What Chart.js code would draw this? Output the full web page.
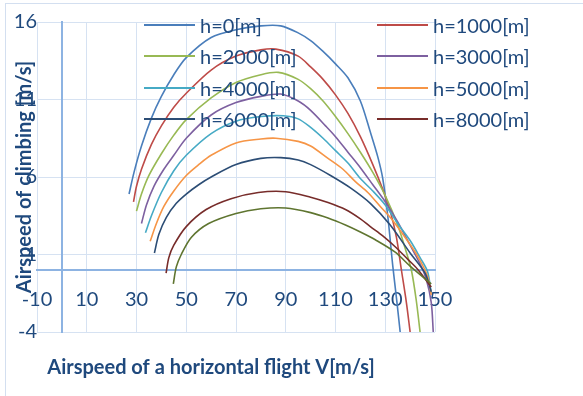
<!DOCTYPE html>
<html>
<head>
<meta charset="utf-8">
<script src="https://cdn.jsdelivr.net/npm/chart.js@4.4.0/dist/chart.umd.min.js"></script>
<style>
body { margin: 0; background: #fff; font-family: Lato, sans-serif; }
#contenitore { position: relative; width: 583px; height: 396px; overflow: hidden; }
#cornice { position: absolute; left: 5px; top: 3px; right: -2px; bottom: -2px; border-top: 1px solid #d3dff0; border-left: 1px solid #d3dff0; }
#grafico { position: absolute; left: 0; top: 0; }
#legenda { position: absolute; left: 0; top: 0; width: 583px; height: 396px; }
.voce { position: absolute; height: 22px; display: flex; align-items: center; font-size: 20px; color: #1F497D; white-space: nowrap; }
.voce .linea { width: 51px; height: 2px; margin-right: 5px; }
</style>
</head>
<body>
<div id="contenitore">
  <div id="cornice"></div>
  <canvas id="grafico" width="583" height="396"></canvas>
  <div id="legenda"></div>
</div>
<script>
// quote [m]
var etichette = ["h=0[m]", "h=1000[m]", "h=2000[m]", "h=3000[m]", "h=4000[m]", "h=5000[m]", "h=6000[m]", "h=8000[m]", "h=9000[m]"];
var vociLegenda = 8; // l'ultima serie non entra nella legenda

// velocita orizzontale V [m/s] e velocita di salita [m/s] per ogni quota
var speedH0 = [27, 29, 32, 36, 40, 45, 50, 60, 70, 80, 88, 95, 100, 105, 110, 115, 120, 124, 127, 129, 131, 133, 134.5, 136];
var climbH0 = [4.9, 6.3, 8.0, 9.8, 11.2, 12.6, 13.7, 15.0, 15.5, 15.75, 15.75, 15.3, 14.8, 14.1, 13.3, 12.4, 10.9, 8.9, 7.3, 5.9, 3.5, 0.3, -1.8, -4.0];

var speedH1 = [28.8, 30, 32, 36, 40, 45, 50, 60, 70, 80, 86, 95, 100, 105, 110, 115, 120, 125, 129, 132, 134.5, 136.5, 138.5, 140];
var climbH1 = [4.4, 5.4, 6.5, 8.1, 9.3, 10.5, 11.4, 12.9, 13.8, 14.2, 14.25, 13.8, 13.1, 12.3, 11.3, 10.1, 8.6, 6.8, 5.2, 3.8, 2.1, 0.0, -2.1, -4.0];

var speedH2 = [30, 32, 35, 40, 45, 50, 60, 70, 80, 87, 95, 100, 105, 110, 115, 120, 125, 130, 135, 138, 140.5, 142.5, 144];
var climbH2 = [3.8, 4.9, 6.1, 7.5, 8.7, 9.7, 11.1, 12.1, 12.6, 12.75, 12.3, 11.7, 10.9, 9.9, 8.8, 7.6, 6.3, 4.8, 2.9, 1.4, 0.0, -2.0, -4.0];

var speedH3 = [32, 34, 37, 41, 45, 50, 60, 70, 80, 88, 95, 100, 106, 110, 115, 120, 125, 130, 135, 140, 144, 146.5, 148.5, 149.3];
var climbH3 = [3.0, 4.2, 5.4, 6.5, 7.4, 8.5, 10.0, 10.8, 11.2, 11.35, 10.9, 10.3, 9.3, 8.6, 7.6, 6.6, 5.5, 4.4, 3.1, 1.6, 0.4, -0.6, -2.1, -4.0];

var speedH4 = [33.6, 36, 40, 45, 50, 60, 70, 80, 89, 95, 100, 105, 110, 115, 120, 125, 130, 135, 140, 144, 147, 148.5];
var climbH4 = [2.4, 3.5, 5.0, 6.4, 7.4, 8.8, 9.6, 9.9, 9.95, 9.75, 9.2, 8.5, 7.7, 6.9, 5.9, 5.1, 4.2, 3.0, 1.9, 0.8, -0.1, -1.5];

var speedH5 = [35.5, 38, 41, 45, 50, 55, 60, 70, 80, 86, 95, 100, 107, 113, 118, 123, 128, 133, 138, 143, 147, 148.5];
var climbH5 = [1.85, 3.0, 4.1, 5.1, 6.1, 6.8, 7.4, 8.2, 8.45, 8.5, 8.3, 8.0, 7.2, 6.5, 5.7, 5.0, 4.1, 3.2, 2.1, 0.9, -0.4, -1.6];

var speedH6 = [37.2, 39, 42, 46, 50, 55, 60, 70, 80, 88, 95, 100, 108, 116, 124, 132, 140, 146, 148.5];
var climbH6 = [1.1, 2.3, 3.4, 4.3, 4.9, 5.5, 6.0, 6.8, 7.2, 7.25, 7.1, 6.8, 6.1, 5.3, 4.3, 2.9, 1.1, -0.2, -1.4];

var speedH8 = [41.9, 43, 45, 50, 58, 68, 79, 90, 100, 107, 114, 120, 124, 129, 134, 139, 143, 148.5];
var climbH8 = [-0.2, 0.8, 1.6, 2.8, 3.9, 4.6, 5.0, 5.05, 4.7, 4.35, 3.9, 3.3, 2.8, 2.2, 1.5, 0.7, 0.05, -1.1];

var speedH9 = [44.8, 46, 48, 52, 59, 70, 80, 90, 100, 107, 114, 120, 126, 134, 140, 148.5];
var climbH9 = [-0.9, 0.2, 1.0, 2.1, 3.0, 3.65, 3.95, 4.0, 3.7, 3.35, 2.9, 2.45, 1.95, 1.15, 0.25, -0.9];

var titoloX = "Airspeed of a horizontal flight V[m/s]";
var titoloY = "Airspeed of climbing [m/s]";

var colori = ["#4A7EBB", "#BE4B48", "#98B954", "#7D60A0", "#46AAC5", "#F69546", "#2C4D75", "#772C2A", "#5F7530"];
var coloreTesto = "#1F497D";
var coloreGriglia = "#D6E2F2";
var coloreAssi = "#8DB3E2";

var serie = [
    [speedH0, climbH0], [speedH1, climbH1], [speedH2, climbH2],
    [speedH3, climbH3], [speedH4, climbH4], [speedH5, climbH5],
    [speedH6, climbH6], [speedH8, climbH8], [speedH9, climbH9]
];

var chart;

function creaDatasets(){
    var datasets = [];
    for (var i = 0; i < serie.length; i++){
        var punti = serie[i][0].map((v, k) => ({x: v, y: serie[i][1][k]}));
        datasets.push({
            label: etichette[i],
            data: punti,
            borderColor: colori[i],
            backgroundColor: colori[i],
            borderWidth: 1.6,
            pointRadius: 0,
            tension: 0.3,
            order: serie.length - i
        });
    }
    return datasets;
}

// titoli degli assi disegnati a mano come in Excel (il titolo Y copre le etichette)
var titoliAssi = {
    id: 'titoliAssi',
    afterDraw: function(c){
        var ctx = c.ctx;
        var area = c.chartArea;
        ctx.save();
        ctx.fillStyle = coloreTesto;
        ctx.font = "bold 20px Lato";
        ctx.textAlign = "center";
        ctx.textBaseline = "middle";
        ctx.fillText(titoloX, 211, 368);
        ctx.translate(25, (area.top + area.bottom) / 2);
        ctx.rotate(-Math.PI / 2);
        ctx.fillText(titoloY, 0, 0);
        ctx.restore();
    }
};

function creaGrafico(){
    var context = document.getElementById("grafico").getContext("2d");
    chart = new Chart(context, {
        type: 'line',
        data: { datasets: creaDatasets() },
        options: {
            responsive: false,
            animation: false,
            layout: { padding: { left: 5, right: 148, top: 22, bottom: 64 } },
            plugins: {
                legend: { display: false },
                tooltip: { enabled: false }
            },
            scales: {
                x: {
                    type: 'linear',
                    min: -10,
                    max: 150,
                    position: { y: 0 },
                    ticks: {
                        stepSize: 20,
                        color: coloreTesto,
                        font: { family: 'Lato', size: 20 },
                        padding: 18,
                        maxRotation: 0,
                        autoSkip: false
                    },
                    grid: { color: coloreGriglia, drawTicks: false },
                    border: { color: coloreAssi, width: 2 }
                },
                y: {
                    type: 'linear',
                    min: -4,
                    max: 16,
                    ticks: {
                        stepSize: 5,
                        color: coloreTesto,
                        font: { family: 'Lato', size: 20 },
                        padding: 0
                    },
                    grid: { color: coloreGriglia, drawTicks: false },
                    border: { display: false },
                    afterFit: function(s){ s.width = 32; }
                },
                y0: {
                    type: 'linear',
                    axis: 'y',
                    min: -4,
                    max: 16,
                    position: { x: 0 },
                    ticks: { display: false },
                    grid: { display: false },
                    border: { color: coloreAssi, width: 2 }
                }
            }
        },
        plugins: [titoliAssi]
    });
}

function popolaLegenda(){
    var legenda = document.getElementById("legenda");
    legenda.innerHTML = "";
    for (var i = 0; i < vociLegenda; i++){
        var colonna = i % 2;
        var riga = Math.floor(i / 2);
        var voce = document.createElement("div");
        voce.className = "voce";
        voce.style.left = (colonna == 0 ? 144 : 377) + "px";
        voce.style.top = (14 + riga * 31.3) + "px";
        var linea = document.createElement("span");
        linea.className = "linea";
        linea.style.background = colori[i];
        var testo = document.createElement("span");
        testo.textContent = etichette[i];
        voce.appendChild(linea);
        voce.appendChild(testo);
        legenda.appendChild(voce);
    }
}

creaGrafico();
popolaLegenda();
</script>
</body>
</html>
